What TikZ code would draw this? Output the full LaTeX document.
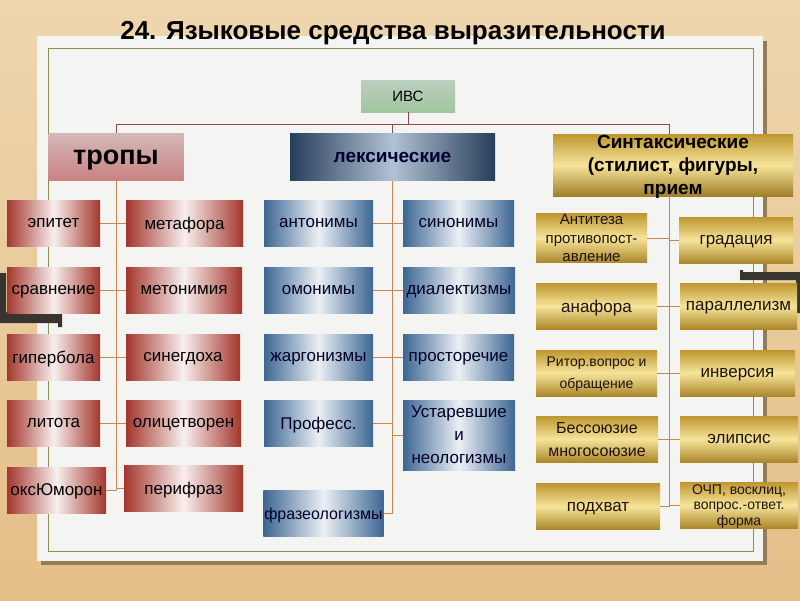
\documentclass[tikz,border=0pt]{standalone}
\usepackage{fontspec}
\setmainfont{Liberation Sans}
\usetikzlibrary{positioning}

\definecolor{woodbase}{HTML}{E4BF88}
\definecolor{woodlight}{HTML}{EED6AE}
\definecolor{paperfill}{HTML}{F4F4F2}
\definecolor{framecol}{HTML}{8E8E55}
\definecolor{trunkcol}{HTML}{C9874F}
\definecolor{buscol}{HTML}{8E4A48}
\definecolor{tropred}{HTML}{A3372D}
\definecolor{lexblue}{HTML}{3D6693}
\definecolor{lexdark}{HTML}{263E59}
\definecolor{golddark}{HTML}{BE962F}
\definecolor{goldlight}{HTML}{F6E49A}
\definecolor{clipdark}{HTML}{3A3430}

\tikzset{
  box/.style={minimum width=#1, minimum height=46, inner sep=1pt, align=center, text depth=0pt,
    font=\fontsize{17}{21}\selectfont},
  tropbox/.style={box=#1, left color=tropred, right color=tropred, middle color=white!92!tropred},
  lexbox/.style={box=#1, left color=lexblue, right color=lexblue, middle color=white!90!lexblue, text=black!85!blue},
  sinbox/.style={box=#1, top color=golddark, bottom color=golddark!90!black, middle color=goldlight, text=black!85!brown},
  link/.style={trunkcol, line width=0.9pt},
  buslink/.style={buscol, line width=0.9pt},
}

\begin{document}
\begin{tikzpicture}[x=1pt,y=-1pt]
\useasboundingbox (0,0) rectangle (800,600);
% background and sheet
\shade[top color=woodlight, bottom color=woodbase] (0,0) rectangle (800,600);
\fill[black!35!woodbase] (41,41) rectangle (767,565);
\fill[paperfill] (37,36) rectangle (763,561);
\draw[framecol, line width=0.9pt] (48,48) rectangle (753,551);
\fill[clipdark] (0,273) -- (6,273) -- (6,312) -- (62,312) -- (62,327) -- (58,327) -- (58,323) -- (0,323) -- cycle;
\fill[clipdark] (740,270) -- (743,270) -- (743,272) -- (800,272) -- (800,313) -- (796,313) -- (796,280) -- (740,280) -- cycle;

\node (title) at (393,33) {\fontsize{26}{28}\selectfont\bfseries 24. Языковые средства выразительности};

% top level
\node (ivs) at (408,96) [minimum width=94, minimum height=32, text depth=0pt, top color=green!15!gray!45, bottom color=green!25!gray!60,
  font=\fontsize{15}{16}\selectfont] {ИВС};
\node (tropy) at (116,157) [minimum width=135, minimum height=47, text depth=0pt, top color=red!25!gray!45, bottom color=red!40!gray!70,
  font=\fontsize{27}{28}\selectfont\bfseries] {тропы};
\node (leks) at (392.5,157) [minimum width=205, minimum height=47, text depth=0pt, left color=lexdark, right color=lexdark, middle color=lexblue!40!white,
  text=black!80!blue, font=\fontsize{19}{22}\selectfont\bfseries] {лексические};
\node (sint) at (673,165) [minimum width=240, minimum height=62, inner sep=1pt, align=center, text depth=-3pt, top color=golddark, bottom color=golddark!85!black,
  middle color=goldlight, font=\fontsize{19}{23}\selectfont\bfseries] {Синтаксические\\(стилист, фигуры,\\прием};

\coordinate (busl) at (116,124);
\coordinate (busr) at (669,124);
\draw[buslink] (ivs.south) -- (ivs.south |- busl);
\draw[buslink] (busl) -- (busr);
\draw[buslink] (busl) -- (tropy.north);
\draw[buslink] (leks.north |- busl) -- (leks.north);
\draw[buslink] (busr) -- (busr |- sint.north);

% tropy
\node (epit) at (53.5,223) [tropbox=93] {эпитет};
\node (sravn) at (53.5,290) [tropbox=93] {сравнение};
\node (giper) at (53.5,357) [tropbox=93] {гипербола};
\node (litot) at (53.5,423) [tropbox=93] {литота};
\node (oksum) at (56.5,490) [tropbox=99] {оксЮморон};
\node (metaf) at (184.5,223) [tropbox=117] {метафора};
\node (meton) at (184,290) [tropbox=116] {метонимия};
\node (sineg) at (183,357) [tropbox=114] {синегдоха};
\node (olic) at (183.5,423) [tropbox=115] {олицетворен};
\node (perif) at (183.5,488.5) [tropbox=119] {перифраз};

\draw[link] (tropy.south) -- (tropy.south |- oksum.east);
\draw[link] (epit) -- (metaf);
\draw[link] (sravn) -- (meton);
\draw[link] (giper) -- (sineg);
\draw[link] (litot) -- (olic);
\draw[link] (oksum.east) -- (oksum.east -| tropy.south);
\draw[link] (perif.west) -- (perif.west -| tropy.south);

% leksicheskie
\node (anton) at (318.5,223) [lexbox=109] {антонимы};
\node (omon) at (318.5,290) [lexbox=109] {омонимы};
\node (zharg) at (318.5,357) [lexbox=109] {жаргонизмы};
\node (prof) at (318.5,423) [lexbox=109] {Професс.};
\node (fraz) at (323.5,513.5) [lexbox=119, font=\fontsize{16}{20}\selectfont] {фразеологизмы};
\node (sinon) at (458.5,223) [lexbox=111] {синонимы};
\node (dial) at (459,290) [lexbox=112] {диалектизмы};
\node (prost) at (458.5,357) [lexbox=111] {просторечие};
\node (ustar) at (459,435) [lexbox=112, minimum height=70, text depth=-5pt, font=\fontsize{17}{23}\selectfont] {Устаревшие\\и\\неологизмы};

\draw[link] (leks.south) -- (leks.south |- fraz.east);
\draw[link] (anton) -- (sinon);
\draw[link] (omon) -- (dial);
\draw[link] (zharg) -- (prost);
\draw[link] (prof.east) -- (prof.east -| leks.south);
\draw[link] (ustar.west) -- (ustar.west -| leks.south);
\draw[link] (fraz.east) -- (fraz.east -| leks.south);

% sintaksicheskie
\node (antit) at (591.5,238) [sinbox=111, minimum height=48, text depth=-8pt, font=\fontsize{15}{18.5}\selectfont] {Антитеза\\противопост-\\авление};
\node (anaf) at (596.5,306) [sinbox=121] {анафора};
\node (ritor) at (596.5,373) [sinbox=121, text depth=-2pt, font=\fontsize{14}{22}\selectfont] {Ритор.вопрос и\\обращение};
\node (bess) at (597,439) [sinbox=122, font=\fontsize{16}{23}\selectfont] {Бессоюзие\\многосоюзие};
\node (podh) at (598,506.5) [sinbox=124] {подхват};
\node (grad) at (736,240) [sinbox=114] {градация};
\node (paral) at (738.5,306) [sinbox=117] {параллелизм};
\node (inver) at (737.5,373) [sinbox=115] {инверсия};
\node (elip) at (739,439) [sinbox=118] {элипсис};
\node (ochp) at (739,505) [sinbox=118, text depth=-3pt, font=\fontsize{14}{15.5}\selectfont] {ОЧП, восклиц,\\вопрос.-ответ.\\форма};

\draw[link] (busr |- sint.south) -- (busr |- podh.east);
\draw[link] (antit.east) -- (antit.east -| busr);
\draw[link] (grad.west) -- (grad.west -| busr);
\draw[link] (anaf) -- (paral);
\draw[link] (ritor) -- (inver);
\draw[link] (bess) -- (elip);
\draw[link] (podh.east) -- (podh.east -| busr);
\draw[link] (ochp.west) -- (ochp.west -| busr);

\end{tikzpicture}
\end{document}
